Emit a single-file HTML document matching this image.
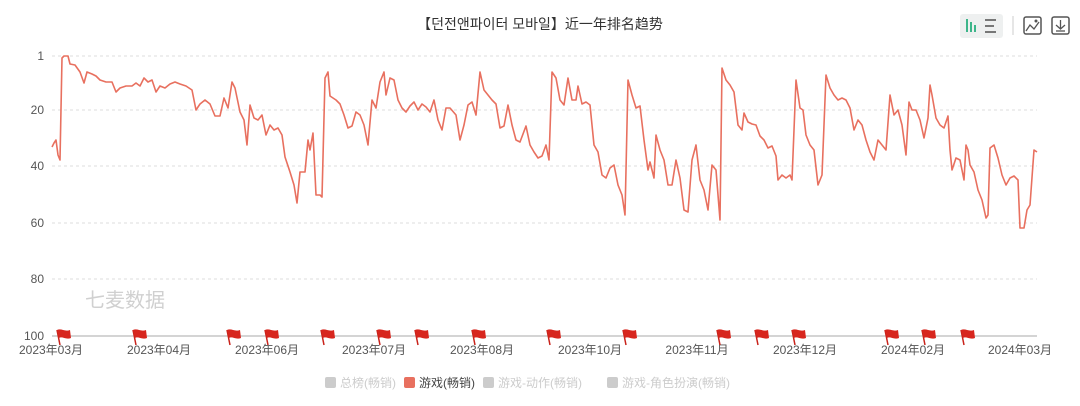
<!DOCTYPE html>
<html><head><meta charset="utf-8"><style>
body{margin:0;background:#fff;}
svg{display:block;font-family:"Liberation Sans","Noto Sans CJK SC",sans-serif;}
</style></head><body>
<svg width="1080" height="406" viewBox="0 0 1080 406" xmlns="http://www.w3.org/2000/svg">
<rect width="1080" height="406" fill="#fff"/>
<text x="540" y="29" text-anchor="middle" font-size="14" fill="#333">【던전앤파이터 모바일】近一年排名趋势</text>
<!-- toolbar -->
<rect x="960" y="14" width="43" height="24" rx="3" fill="#eef0f0"/>
<g stroke="#3db58a" stroke-width="2"><line x1="967" y1="19" x2="967" y2="32"/><line x1="971" y1="22" x2="971" y2="32"/><line x1="975" y1="25" x2="975" y2="32"/></g>
<g stroke="#777" stroke-width="2"><line x1="985" y1="20" x2="996" y2="20"/><line x1="985" y1="26" x2="994" y2="26"/><line x1="985" y1="32" x2="996" y2="32"/></g>
<line x1="1013" y1="16" x2="1013" y2="35" stroke="#ccc"/>
<rect x="1024" y="17" width="17" height="17" rx="2" fill="none" stroke="#555" stroke-width="1.5"/>
<polyline points="1026,31 1030,25 1034,29 1039,22" fill="none" stroke="#555" stroke-width="1.3"/>
<circle cx="1036" cy="21" r="1.5" fill="#555"/>
<rect x="1052" y="17" width="17" height="17" rx="2" fill="none" stroke="#555" stroke-width="1.5"/>
<polyline points="1056,25 1060.5,29 1065,25" fill="none" stroke="#555" stroke-width="1.3"/>
<line x1="1060.5" y1="20" x2="1060.5" y2="29" stroke="#555" stroke-width="1.3"/>
<line x1="1056" y1="31" x2="1065" y2="31" stroke="#555" stroke-width="1.3"/>
<!-- grid -->
<g stroke="#ddd" stroke-dasharray="3,3">
<line x1="52" y1="56" x2="1037" y2="56"/><line x1="52" y1="110" x2="1037" y2="110"/><line x1="52" y1="166" x2="1037" y2="166"/><line x1="52" y1="223" x2="1037" y2="223"/><line x1="52" y1="279" x2="1037" y2="279"/>
</g>
<line x1="52" y1="336" x2="1037" y2="336" stroke="#aaa"/>
<g font-size="12" fill="#555" text-anchor="end">
<text x="44" y="60">1</text><text x="44" y="114">20</text><text x="44" y="170">40</text><text x="44" y="227">60</text><text x="44" y="283">80</text><text x="44" y="340">100</text>
</g>
<g font-size="12" fill="#555" text-anchor="middle">
<text x="51" y="354">2023年03月</text><text x="159" y="354">2023年04月</text><text x="267" y="354">2023年06月</text><text x="374" y="354">2023年07月</text><text x="482" y="354">2023年08月</text><text x="590" y="354">2023年10月</text><text x="697" y="354">2023年11月</text><text x="805" y="354">2023年12月</text><text x="913" y="354">2024年02月</text><text x="1020" y="354">2024年03月</text>
</g>
<text x="85" y="307" font-size="20" fill="#d0d0d0">七麦数据</text>
<polyline fill="none" stroke="#e8705f" stroke-width="1.6" stroke-linejoin="round" points="52,147 54,143 56,140 58,155 60,160 62,58 64,56 68,56 70,64 75,65 80,72 84,83 87,72 92,74 96,76 100,80 106,82 112,82 116,92 120,88 126,86 132,86 136,83 140,86 144,78 148,82 152,80 156,92 160,86 165,88 170,84 175,82 180,84 186,86 192,90 196,110 200,104 205,100 210,104 215,116 220,116 224,98 228,108 232,82 235,88 240,112 244,120 247,145 250,105 254,118 258,120 262,115 266,135 270,125 274,130 278,128 282,135 285,157 290,172 294,185 297,203 300,172 305,172 308,140 310,150 313,133 316,195 320,195 322,197 325,78 328,72 330,96 336,100 340,104 344,115 348,128 352,126 356,112 360,115 364,125 368,145 372,100 376,108 380,82 384,72 386,95 390,78 394,80 398,100 402,108 406,112 410,106 414,102 418,110 422,104 426,107 430,112 434,100 438,120 442,130 446,108 450,108 456,115 460,140 464,125 468,105 472,102 476,115 480,72 484,90 488,95 492,100 496,104 500,128 504,126 508,105 512,125 516,140 520,142 526,126 530,145 534,152 538,158 542,156 546,145 549,160 552,72 556,78 560,100 564,105 568,78 572,100 576,100 578,86 582,104 586,102 590,105 594,145 598,152 602,175 606,178 610,168 614,165 618,185 622,195 625,215 628,80 632,95 636,108 640,106 644,140 648,170 650,162 654,178 656,135 660,150 664,160 668,185 672,185 676,160 680,178 684,210 688,212 692,160 696,145 700,180 704,190 708,210 712,165 716,170 720,220 722,68 726,80 730,85 734,92 738,125 742,130 744,113 748,122 752,124 756,125 760,136 764,140 768,148 772,146 776,156 778,180 782,175 786,178 790,175 792,180 796,80 800,108 803,110 806,135 810,145 814,150 818,185 822,175 826,75 830,88 834,95 838,100 842,98 846,100 850,108 854,130 858,120 862,125 866,140 870,152 874,160 878,140 882,145 886,150 890,95 894,115 898,110 902,125 906,155 909,102 912,110 916,110 920,120 924,138 928,118 930,85 932,95 936,118 940,125 944,128 948,116 950,150 952,170 956,158 960,160 964,180 966,145 968,150 970,165 974,172 978,190 982,200 986,218 988,215 990,148 994,145 998,158 1002,175 1006,185 1010,178 1014,176 1018,180 1020,228 1024,228 1027,210 1030,205 1034,150 1037,152"/>
<defs><g id="f"><line x1="-5" y1="-7" x2="-2" y2="8" stroke="#c9231b" stroke-width="1.5"/><path d="M-5,-7 C-1,-9 3,-5 8,-7 L9,1 C4,3 0,-1 -3,1 Z" fill="#d7261e"/></g></defs>
<g>
<use href="#f" x="62" y="337"/><use href="#f" x="138" y="337"/><use href="#f" x="232" y="337"/><use href="#f" x="270" y="337"/><use href="#f" x="326" y="337"/><use href="#f" x="382" y="337"/><use href="#f" x="420" y="337"/><use href="#f" x="477" y="337"/><use href="#f" x="552" y="337"/><use href="#f" x="628" y="337"/><use href="#f" x="722" y="337"/><use href="#f" x="760" y="337"/><use href="#f" x="797" y="337"/><use href="#f" x="890" y="337"/><use href="#f" x="927" y="337"/><use href="#f" x="966" y="337"/>
</g>
<g font-size="12">
<rect x="325" y="377" width="11" height="11" rx="2" fill="#ccc"/><text x="340" y="387" fill="#ccc">总榜(畅销)</text>
<rect x="404" y="377" width="11" height="11" rx="2" fill="#e8705f"/><text x="419" y="387" fill="#444">游戏(畅销)</text>
<rect x="483" y="377" width="11" height="11" rx="2" fill="#ccc"/><text x="498" y="387" fill="#ccc">游戏-动作(畅销)</text>
<rect x="607" y="377" width="11" height="11" rx="2" fill="#ccc"/><text x="622" y="387" fill="#ccc">游戏-角色扮演(畅销)</text>
</g>
</svg>
</body></html>
